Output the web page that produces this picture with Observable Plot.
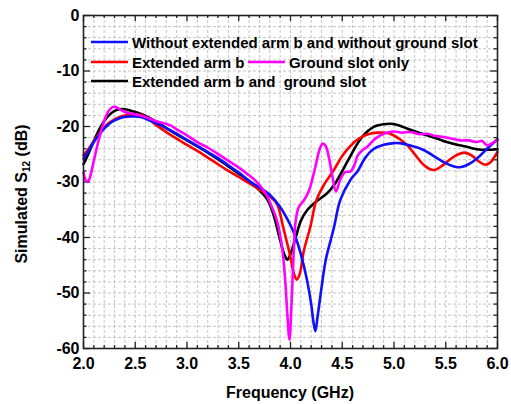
<!DOCTYPE html>
<html><head><meta charset="utf-8">
<script src="https://cdn.jsdelivr.net/npm/d3@7"></script>
<script src="https://cdn.jsdelivr.net/npm/@observablehq/plot@0.6"></script>
<style>body{margin:0;background:#fff;} svg{display:block;}</style>
</head><body><div id="chart"></div>
<script>
const seriesNames = [
  "Without extended arm b and without ground slot",
  "Extended arm b",
  "Ground slot only",
  "Extended arm b and  ground slot"
];
const seriesColors = ["#1010ff", "#ff0000", "#ff00ff", "#000000"];

const blueF = [2.00,2.05,2.10,2.15,2.20,2.25,2.30,2.35,2.40,2.45,2.50,2.55,2.60,2.70,2.80,2.90,3.00,3.10,3.20,3.30,3.40,3.50,3.60,3.70,3.80,3.90,4.00,4.05,4.10,4.16,4.20,4.22,4.24,4.26,4.30,4.34,4.42,4.48,4.58,4.65,4.72,4.80,4.90,5.00,5.05,5.15,5.28,5.40,5.50,5.60,5.65,5.72,5.80,5.90,6.00];
const blueS = [-25.8,-24.3,-22.8,-21.5,-20.4,-19.5,-18.9,-18.5,-18.3,-18.2,-18.2,-18.3,-18.6,-19.4,-20.3,-21.3,-22.4,-23.5,-24.6,-25.7,-27.0,-28.3,-29.8,-31.0,-32.3,-34.5,-37.8,-40.0,-43.0,-47.7,-52.0,-55.0,-56.9,-54.5,-49.0,-44.1,-38.2,-33.3,-29.6,-28.0,-25.7,-24.1,-23.3,-23.0,-23.0,-23.4,-24.2,-25.5,-26.6,-27.3,-27.3,-26.8,-25.8,-24.0,-22.3];

const redF = [2.00,2.05,2.10,2.15,2.20,2.25,2.30,2.35,2.40,2.45,2.50,2.55,2.60,2.70,2.80,2.90,3.00,3.10,3.20,3.30,3.40,3.50,3.60,3.70,3.80,3.87,3.93,4.00,4.03,4.06,4.09,4.13,4.19,4.25,4.33,4.42,4.50,4.58,4.66,4.75,4.84,4.95,5.05,5.13,5.20,5.28,5.35,5.40,5.47,5.55,5.62,5.68,5.75,5.82,5.88,5.93,5.97,6.00];
const redS = [-25.2,-24.0,-22.6,-21.3,-20.2,-19.3,-18.7,-18.3,-18.0,-17.9,-17.8,-17.9,-18.3,-19.7,-21.0,-22.2,-23.3,-24.4,-25.6,-26.8,-28.0,-29.1,-30.2,-31.4,-32.6,-34.0,-38.2,-43.6,-46.3,-47.6,-46.5,-42.3,-38.2,-33.3,-30.3,-27.8,-25.3,-23.5,-22.2,-21.4,-21.1,-21.2,-22.2,-23.4,-25.0,-26.8,-27.7,-27.8,-27.0,-25.8,-25.0,-24.7,-25.2,-26.3,-26.9,-26.5,-25.5,-24.6];

const magentaF = [2.00,2.02,2.04,2.06,2.09,2.12,2.16,2.20,2.24,2.28,2.31,2.35,2.40,2.45,2.50,2.55,2.60,2.70,2.84,2.90,3.00,3.10,3.20,3.32,3.40,3.50,3.60,3.66,3.72,3.77,3.82,3.87,3.92,3.95,3.97,3.99,4.01,4.03,4.05,4.08,4.13,4.18,4.24,4.28,4.31,4.34,4.37,4.40,4.44,4.48,4.53,4.58,4.62,4.65,4.70,4.74,4.80,4.84,4.90,4.99,5.08,5.16,5.25,5.32,5.40,5.48,5.56,5.64,5.72,5.80,5.85,5.90,5.95,6.00];
const magentaS = [-28.3,-29.6,-30.0,-29.3,-27.0,-24.5,-21.5,-19.0,-17.3,-16.5,-16.5,-16.9,-17.4,-17.6,-17.8,-18.0,-18.3,-19.0,-19.8,-20.5,-21.6,-22.8,-23.8,-25.2,-26.2,-27.4,-28.8,-29.7,-31.0,-32.4,-34.5,-37.0,-42.0,-48.0,-54.0,-58.4,-52.0,-43.0,-37.0,-34.5,-33.3,-31.5,-27.3,-24.2,-23.1,-23.5,-25.5,-28.5,-31.7,-29.6,-28.2,-28.1,-26.8,-25.2,-24.2,-23.7,-22.5,-21.9,-21.3,-20.9,-21.1,-21.0,-21.4,-21.3,-21.7,-21.9,-22.2,-22.5,-22.5,-22.8,-22.6,-23.4,-23.0,-22.4];

const blackF = [2.00,2.05,2.10,2.15,2.20,2.25,2.30,2.35,2.40,2.45,2.50,2.55,2.60,2.70,2.80,2.90,3.00,3.10,3.20,3.30,3.40,3.50,3.60,3.70,3.77,3.82,3.86,3.90,3.94,3.97,4.00,4.05,4.10,4.16,4.25,4.35,4.43,4.48,4.55,4.60,4.65,4.72,4.80,4.90,4.97,5.05,5.13,5.22,5.32,5.42,5.51,5.61,5.71,5.80,5.90,6.00];
const blackS = [-26.8,-24.8,-22.6,-20.6,-19.0,-17.9,-17.2,-16.9,-16.9,-17.1,-17.4,-17.7,-18.1,-19.1,-20.3,-21.4,-22.5,-23.6,-24.7,-25.9,-27.2,-28.5,-29.8,-31.5,-33.0,-35.0,-37.5,-40.5,-43.0,-44.0,-43.0,-40.0,-37.0,-35.1,-33.5,-32.1,-30.3,-28.7,-26.3,-24.6,-23.0,-21.3,-20.1,-19.6,-19.5,-19.8,-20.4,-21.0,-21.6,-22.2,-22.8,-23.3,-23.7,-24.1,-24.2,-24.1];

const xTicks = [2.0, 2.5, 3.0, 3.5, 4.0, 4.5, 5.0, 5.5, 6.0];
const yTicks = [0, -10, -20, -30, -40, -50, -60];

const allF = [blueF, redF, magentaF, blackF];
const allS = [blueS, redS, magentaS, blackS];
const rows = [];
allF.forEach((fs, i) => fs.forEach((f, j) => rows.push({f, s: allS[i][j], series: seriesNames[i]})));

const W = 511, H = 404;
const mL = 83, mR = 14, mT = 15, mB = 56;
const pxPerDb = (H - mT - mB) / 60;
const pxPerGHz = (W - mL - mR) / 4;

const minorX = d3.range(21, 60).map(d => d / 10);
const minorY = d3.range(-29, 0).map(d => d * 2);
const allX = d3.range(20, 61).map(d => d / 10);
const allY = d3.range(-30, 1).map(d => d * 2);
const isMajX = d => Math.abs(d * 2 - Math.round(d * 2)) < 1e-6;
const isMajY = d => d % 10 === 0;
const tl = (px) => px / pxPerDb;
const tlx = (px) => px / pxPerGHz;

const order = [3, 1, 0, 2];

const chart = Plot.plot({
  width: W, height: H,
  marginLeft: mL, marginRight: mR, marginTop: mT, marginBottom: mB,
  style: {fontFamily: "'Liberation Sans', Arial, sans-serif", fontWeight: "bold", fontSize: "16px", background: "#fff", color: "#000"},
  x: {domain: [2, 6]},
  y: {domain: [-60, 0]},
  marks: [
    Plot.gridX(minorX, {stroke: "#c4c4c4", strokeOpacity: 1, strokeDasharray: "3,2", strokeWidth: 1}),
    Plot.gridY(minorY, {stroke: "#c4c4c4", strokeOpacity: 1, strokeDasharray: "3,2", strokeWidth: 1}),
    Plot.axisX(xTicks, {tickSize: 0, tickPadding: 9, tickFormat: d => d.toFixed(1), label: null, fill: "#000"}),
    Plot.axisY(yTicks, {tickSize: 0, tickPadding: 4, tickFormat: d => String(d), label: null, fill: "#000"}),
    // inward ticks
    Plot.ruleX(allX, {x: d => d, y1: -60, y2: d => -60 + tl(isMajX(d) ? 6 : 3), stroke: "#222", strokeWidth: 1.3}),
    Plot.ruleX(allX, {x: d => d, y1: 0, y2: d => -tl(isMajX(d) ? 6 : 3), stroke: "#222", strokeWidth: 1.3}),
    Plot.ruleY(allY, {y: d => d, x1: 2, x2: d => 2 + tlx(isMajY(d) ? 7 : 3.5), stroke: "#222", strokeWidth: 1.3}),
    Plot.ruleY(allY, {y: d => d, x1: 6, x2: d => 6 - tlx(isMajY(d) ? 7 : 3.5), stroke: "#222", strokeWidth: 1.3}),
    ...order.map(i => Plot.line(rows.filter(r => r.series === seriesNames[i]), {
      x: "f", y: "s", stroke: seriesColors[i], strokeWidth: 2.6, curve: "catmull-rom"
    })),
    Plot.frame({stroke: "#222", strokeWidth: 1.6})
  ]
});

const svg = d3.select(chart);
const txt = "'Liberation Sans', Arial, sans-serif";
// x label
svg.append("text").attr("x", (mL + W - mR) / 2).attr("y", 398)
  .attr("text-anchor", "middle").attr("font-family", txt).attr("font-weight", "bold")
  .attr("font-size", 16).attr("fill", "#000").text("Frequency (GHz)");
// y label with subscript
const yl = svg.append("text").attr("transform", "translate(27,194) rotate(-90)")
  .attr("text-anchor", "middle").attr("font-family", txt).attr("font-weight", "bold")
  .attr("font-size", 16).attr("fill", "#000");
yl.append("tspan").text("Simulated S");
yl.append("tspan").attr("font-size", 10).attr("dy", 3).text("12");
yl.append("tspan").attr("dy", -3).text(" (dB)");

// legend
const legendItems = [
  {i: 0, x: 91, y: 42},
  {i: 1, x: 91, y: 62},
  {i: 2, x: 248, y: 62},
  {i: 3, x: 91, y: 81}
];
const lg = svg.append("g").attr("text-anchor", "start");
legendItems.forEach(({i, x, y}) => {
  lg.append("line").attr("x1", x).attr("x2", x + 37).attr("y1", y).attr("y2", y)
    .attr("stroke", seriesColors[i]).attr("stroke-width", 2.6);
  lg.append("text").attr("x", x + 41).attr("y", y + 6).attr("font-family", txt)
    .attr("text-anchor", "start")
    .attr("font-weight", "bold").attr("font-size", 15).attr("fill", "#000")
    .style("white-space", "pre").text(seriesNames[i]);
});

document.getElementById("chart").append(chart);
</script>
</body></html>
